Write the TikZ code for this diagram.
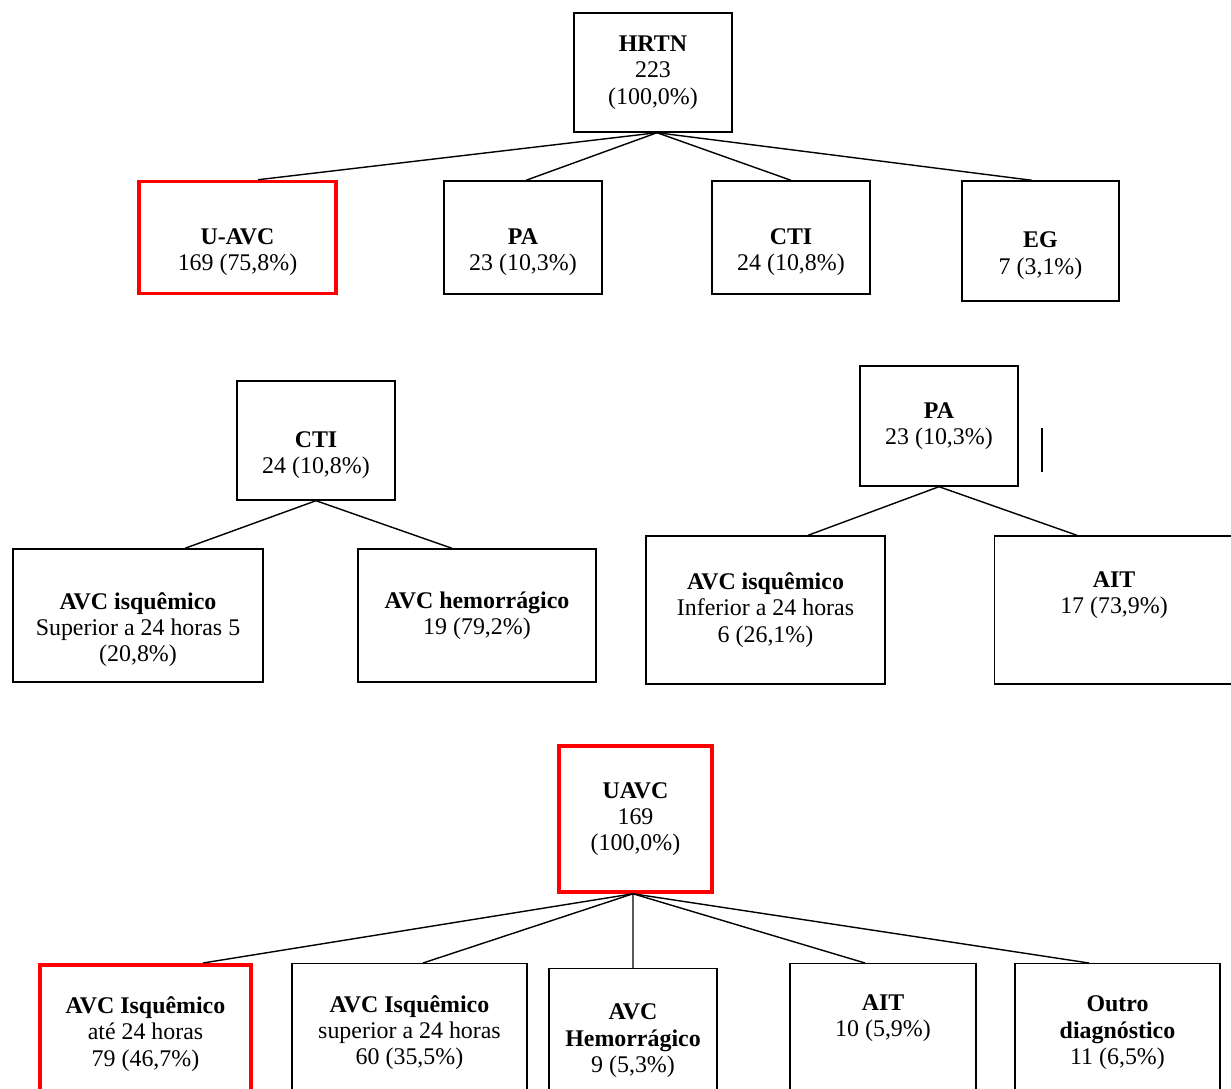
\documentclass[tikz,border=0pt]{standalone}
\usepackage{fontspec}
\setmainfont{Liberation Serif}
\usepackage[dvipsnames]{xcolor}

\begin{document}
\begin{tikzpicture}[
		caixa/.style={rectangle,draw=black,line width=0.8pt,align=center,text centered,inner sep=0pt,font=\fontsize{13.6}{15}\selectfont},
		destaque/.style={caixa,draw=red,line width=2pt},
		liga/.style={draw=black,line width=0.8pt}]
	\useasboundingbox (0,0) rectangle (24.62,-21.76);
	\node (hrtn)[caixa,minimum width=3.16cm,minimum height=2.38cm] at (13.06,-1.45) {\textbf{HRTN}\\223\\(100,0\%)};
	\node (uavcA)[destaque,minimum width=3.94cm,minimum height=2.24cm] at (4.75,-4.75) {\strut\\\textbf{U-AVC}\\169 (75,8\%)};
	\node (paA)[caixa,minimum width=3.16cm,minimum height=2.26cm] at (10.46,-4.75) {\strut\\\textbf{PA}\\23 (10,3\%)};
	\node (ctiA)[caixa,minimum width=3.16cm,minimum height=2.26cm] at (15.82,-4.75) {\strut\\\textbf{CTI}\\24 (10,8\%)};
	\node (eg)[caixa,minimum width=3.14cm,minimum height=2.4cm] at (20.81,-4.82) {\strut\\\textbf{EG}\\7 (3,1\%)};
	\draw[liga] ([xshift=0.8mm]hrtn.south) -- ([xshift=4.1mm]uavcA.north);
	\draw[liga] ([xshift=0.8mm]hrtn.south) -- ([xshift=0.6mm]paA.north);
	\draw[liga] ([xshift=0.8mm]hrtn.south) -- (ctiA.north);
	\draw[liga] ([xshift=0.8mm]hrtn.south) -- ([xshift=-1.7mm]eg.north);
	
	\node (ctiB)[caixa,minimum width=3.16cm,minimum height=2.38cm] at (6.32,-8.81) {\strut\\\textbf{CTI}\\24 (10,8\%)};
	\node (isqSup)[caixa,minimum width=5cm,minimum height=2.66cm] at (2.76,-12.31) {\strut\\\textbf{AVC isquêmico}\\Superior a 24 horas 5\\(20,8\%)};
	\node (hemA)[caixa,minimum width=4.76cm,minimum height=2.66cm] at (9.54,-12.31) {\textbf{AVC hemorrágico}\\19 (79,2\%)};
	\draw[liga] (ctiB.south) -- ([xshift=9.4mm]isqSup.north);
	\draw[liga] (ctiB.south) -- ([xshift=-5mm]hemA.north);
	
	\node (paB)[caixa,minimum width=3.16cm,minimum height=2.4cm] at (18.78,-8.52) {\textbf{PA}\\23 (10,3\%)};
	\node (isqInf)[caixa,minimum width=4.78cm,minimum height=2.96cm] at (15.31,-12.2) {\textbf{AVC isquêmico}\\Inferior a 24 horas\\6 (26,1\%)};
	\node (aitA)[caixa,minimum width=4.78cm,minimum height=2.96cm] at (22.28,-12.2) {\textbf{AIT}\\17 (73,9\%)\\\strut};
	\draw[liga] (paB.south) -- ([xshift=8.5mm]isqInf.north);
	\draw[liga] (paB.south) -- ([xshift=-7.4mm]aitA.north);
	\draw[liga] (20.84,-8.56) -- (20.84,-9.44);
	
	\node (uavcB)[destaque,minimum width=3.06cm,minimum height=2.92cm] at (12.71,-16.38) {\textbf{UAVC}\\169\\(100,0\%)};
	\node (isq24)[destaque,anchor=north,minimum width=4.22cm,minimum height=2.76cm] at (2.91,-19.26) {\textbf{AVC Isquêmico}\\até 24 horas\\79 (46,7\%)};
	\node (isqMais)[caixa,anchor=north,minimum width=4.7cm,minimum height=2.76cm] at (8.19,-19.26) {\textbf{AVC Isquêmico}\\superior a 24 horas\\60 (35,5\%)};
	\node (hemB)[caixa,anchor=north,minimum width=3.36cm,minimum height=2.88cm] at (12.66,-19.36) {\textbf{AVC}\\\textbf{Hemorrágico}\\9 (5,3\%)};
	\node (aitB)[caixa,anchor=north,minimum width=3.72cm,minimum height=2.76cm] at (17.66,-19.26) {\textbf{AIT}\\10 (5,9\%)\\\strut};
	\node (outro)[caixa,anchor=north,minimum width=4.1cm,minimum height=2.76cm] at (22.35,-19.26) {\textbf{Outro}\\\textbf{diagnóstico}\\11 (6,5\%)};
	\draw[liga] ([xshift=-0.5mm]uavcB.south) -- ([xshift=11.5mm]isq24.north);
	\draw[liga] ([xshift=-0.5mm]uavcB.south) -- ([xshift=2.7mm]isqMais.north);
	\draw[liga] ([xshift=-0.5mm]uavcB.south) -- (hemB.north);
	\draw[liga] ([xshift=-0.5mm]uavcB.south) -- ([xshift=-3.6mm]aitB.north);
	\draw[liga] ([xshift=-0.5mm]uavcB.south) -- ([xshift=-5.7mm]outro.north);
\end{tikzpicture}
\end{document}
